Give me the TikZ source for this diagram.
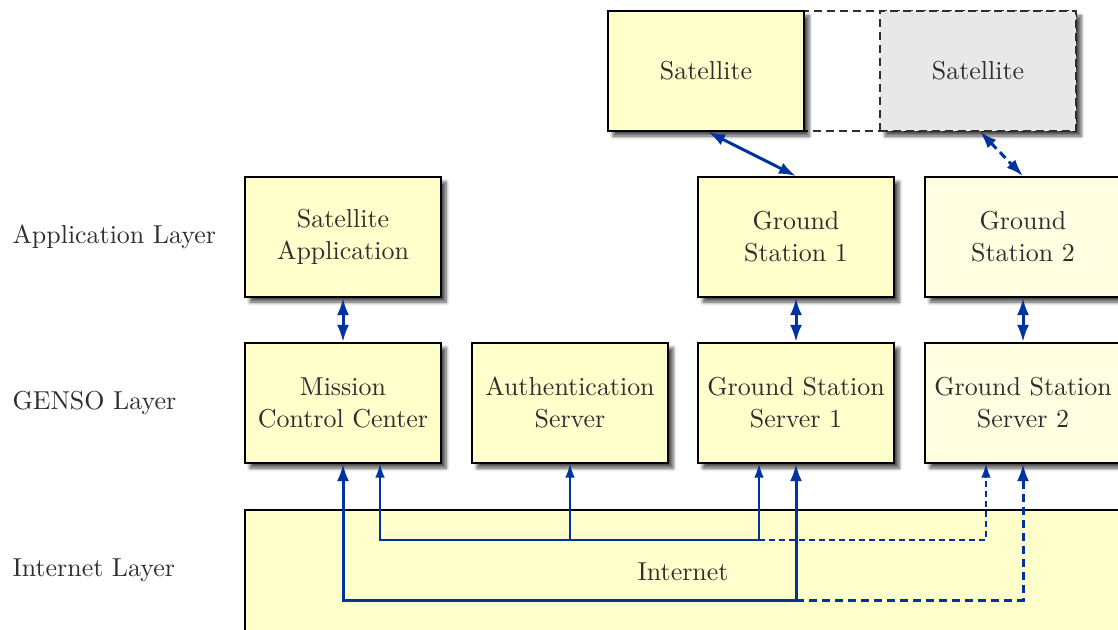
\documentclass[tikz,border=0pt]{standalone}
\usetikzlibrary{arrows.meta,shadows.blur}
\definecolor{boxfill}{HTML}{FFFFCC}
\definecolor{boxfilllight}{HTML}{FFFEE0}
\definecolor{ghostfill}{HTML}{E8E8E8}
\definecolor{linkblue}{HTML}{0033A0}
\definecolor{txt}{HTML}{2E2E2E}
% drawing unit: one grid step of the layout
\newdimen\pxu \pxu=0.3857pt
\tikzset{
  unitbox/.style={draw=black, line width=1.8\pxu, fill=boxfill,
    minimum width=196\pxu, minimum height=120\pxu, align=center, text=txt,
    inner sep=0pt,
    blur shadow={shadow xshift=5\pxu, shadow yshift=-5\pxu,
      shadow blur radius=3.5\pxu, shadow blur steps=6, shadow opacity=70}},
  layerlabel/.style={anchor=west, text=txt, inner sep=0pt},
  bigtip/.tip={Latex[length=6.6pt,width=4.6pt]},
  smalltip/.tip={Latex[length=5.3pt,width=3.7pt]},
  biglink/.style={draw=linkblue, line width=3\pxu, -bigtip},
  bothlink/.style={draw=linkblue, line width=3\pxu, bigtip-bigtip},
  smalllink/.style={draw=linkblue, line width=1.6\pxu, -smalltip},
  dashedlink/.style={dash pattern=on 8\pxu off 5\pxu},
}
\begin{document}
\begin{tikzpicture}[x=\pxu,y=-\pxu,font=\fontsize{10}{12.34}\selectfont]
\useasboundingbox (0,0) rectangle (1118,630);
\clip (0,0) rectangle (1118,630);

% layer captions
\node[layerlabel] (lapp) at (12,237) {Application Layer};
\node[layerlabel] (lgenso) at (12,403) {GENSO Layer};
\node[layerlabel] (lnet) at (12,570) {Internet Layer};

% dashed outline showing the satellite's movement
\draw[draw=txt, line width=1.3\pxu, dash pattern=on 8\pxu off 5\pxu]
  (608,11) rectangle (1076,131);
\node[unitbox, fill=ghostfill, draw=txt, line width=1.3\pxu,
  dash pattern=on 8\pxu off 5\pxu] (sat2) at (978,71) {Satellite};
\node[unitbox] (sat1) at (706,71) {Satellite};

% application layer
\node[unitbox] (app) at (343,237) {Satellite\\Application};
\node[unitbox] (gs1) at (796,237) {Ground\\Station 1};
\node[unitbox, fill=boxfilllight] (gs2) at (1023,237) {Ground\\Station 2};

% GENSO layer
\node[unitbox] (mcc) at (343,403) {Mission\\Control Center};
\node[unitbox] (auth) at (570,403) {Authentication\\Server};
\node[unitbox] (gss1) at (796,403) {Ground Station\\Server 1};
\node[unitbox, fill=boxfilllight] (gss2) at (1023,403) {Ground Station\\Server 2};

% internet layer
\node[unitbox, minimum width=876\pxu, minimum height=124\pxu] (net) at (683,572) {Internet};

% radio links
\draw[bothlink] ([xshift=0.77pt]sat1.south) -- (gs1.north);
\draw[bothlink, dashedlink] ([xshift=0.77pt]sat2.south) -- (gs2.north);

% vertical links between layers
\draw[bothlink] (app.south) -- (mcc.north);
\draw[bothlink] (gs1.south) -- (gss1.north);
\draw[bothlink] (gs2.south) -- (gss2.north);

% data routes through the internet
\coordinate (hub) at (796,600);
\draw[biglink] (hub) -| (mcc.south);
\draw[biglink] (hub) -- (gss1.south);
\draw[biglink, dashedlink] (hub) -| (gss2.south);

\coordinate (auhub) at (759,540);
\draw[smalllink] (auhub) -| ([xshift=14.27pt]mcc.south);
\draw[smalllink] (auth.south |- auhub) -- (auth.south);
\draw[smalllink] (auhub) -- ([xshift=-14.27pt]gss1.south);
\draw[smalllink, dash pattern=on 6\pxu off 4\pxu] (auhub) -| ([xshift=-14.27pt]gss2.south);
\end{tikzpicture}
\end{document}
